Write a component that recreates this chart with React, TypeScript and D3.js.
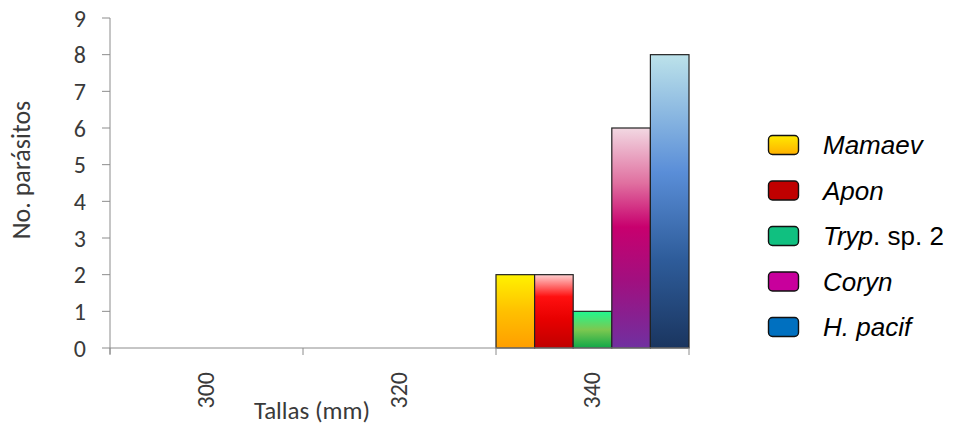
import React from "react";
import * as d3 from "d3";

const categories = ["300", "320", "340"];
const seriesNames = ["Mamaev", "Apon", "Tryp", "Coryn", "H. pacif"];
const mamaev = [0, 0, 2];
const apon = [0, 0, 2];
const tryp = [0, 0, 1];
const coryn = [0, 0, 6];
const hpacif = [0, 0, 8];
const yTicks = [0, 1, 2, 3, 4, 5, 6, 7, 8, 9];

const seriesValues = [mamaev, apon, tryp, coryn, hpacif];

const gradients = [
  [["0%", "#FFF200"], ["50%", "#FFC000"], ["100%", "#FF9E00"]],
  [["0%", "#FFD0D0"], ["30%", "#FF1010"], ["60%", "#E80000"], ["100%", "#C00000"]],
  [["0%", "#20F890"], ["50%", "#7CC850"], ["100%", "#10A848"]],
  [["0%", "#F2D8E2"], ["25%", "#E070A0"], ["45%", "#C8006E"], ["70%", "#A01080"], ["100%", "#7030A0"]],
  [["0%", "#BCE2EA"], ["40%", "#5A8ED8"], ["70%", "#2E5C9A"], ["100%", "#1A355F"]],
];
const legendFill = ["url(#lg0)", "#C00000", "#10C080", "#C8009C", "#0070C0"];

export default function App() {
  const W = 953, H = 425;
  const x0 = 110, x1 = 689;
  const yTop = 18, yBot = 348;
  const x = d3.scaleBand().domain(categories).range([x0, x1]).padding(0);
  const xs = d3.scaleBand().domain(seriesNames).range([0, x.bandwidth()]).padding(0);
  const y = d3.scaleLinear().domain([0, 9]).range([yBot, yTop]);
  const axisColor = "#8c8c8c";
  const tickFont = "Carlito, Calibri, Lato, 'Open Sans', sans-serif";
  const textColor = "#3a3a3a";
  const boundaries = [x0, ...categories.map((c) => (x(c) as number) + x.bandwidth())];

  return (
    <svg width={W} height={H} style={{ position: "absolute", left: 0, top: 0, background: "#fff" }}>
      <defs>
        {gradients.map((g, i) => (
          <linearGradient key={i} id={`g${i}`} x1="0" y1="0" x2="0" y2="1">
            {g.map(([o, c], j) => (
              <stop key={j} offset={o} stopColor={c} />
            ))}
          </linearGradient>
        ))}
        <linearGradient id="lg0" x1="0" y1="0" x2="0" y2="1">
          <stop offset="0%" stopColor="#FFEA00" />
          <stop offset="100%" stopColor="#FFB000" />
        </linearGradient>
      </defs>

      {/* bars */}
      {categories.map((c, ci) =>
        seriesNames.map((s, si) => {
          const v = seriesValues[si][ci];
          if (!v) return null;
          const bx = (x(c) as number) + (xs(s) as number);
          return (
            <rect
              key={`${c}-${s}`}
              x={bx}
              y={y(v)}
              width={xs.bandwidth()}
              height={yBot - y(v)}
              fill={`url(#g${si})`}
              stroke="#222"
              strokeWidth={1.2}
            />
          );
        })
      )}

      {/* y axis */}
      <line x1={x0} x2={x0} y1={yTop} y2={yBot + 6} stroke={axisColor} strokeWidth={1} />
      {yTicks.map((t) => (
        <g key={t}>
          <line x1={x0 - 8} x2={x0} y1={y(t)} y2={y(t)} stroke={axisColor} strokeWidth={1} />
          <text
            x={86}
            y={y(t)}
            dy="0.36em"
            textAnchor="end"
            fontFamily={tickFont}
            fontSize={24}
            fill={textColor}
          >
            {t}
          </text>
        </g>
      ))}

      {/* x axis */}
      <line x1={x0} x2={x1} y1={yBot} y2={yBot} stroke={axisColor} strokeWidth={1} />
      {boundaries.map((b, i) => (
        <line key={i} x1={b} x2={b} y1={yBot} y2={yBot + 7} stroke={axisColor} strokeWidth={1} />
      ))}
      {categories.map((c) => {
        const cx = (x(c) as number) + x.bandwidth() / 2;
        return (
          <text
            key={c}
            transform={`translate(${cx + 7.5},${372}) rotate(-90)`}
            textAnchor="end"
            fontFamily={tickFont}
            fontSize={24}
            fill={textColor}
          >
            {c}
          </text>
        );
      })}

      {/* axis titles */}
      <text x={312} y={419} textAnchor="middle" fontFamily={tickFont} fontSize={25} fill={textColor}>
        Tallas (mm)
      </text>
      <text
        transform={`translate(${30},${170}) rotate(-90)`}
        textAnchor="middle"
        fontFamily={tickFont}
        fontSize={26}
        fill={textColor}
      >
        No. parásitos
      </text>

      {/* legend */}
      {seriesNames.map((s, i) => {
        const cy = 145 + i * 45.5;
        return (
          <g key={s}>
            <rect
              x={768.5}
              y={cy - 9.5}
              width={30}
              height={19}
              rx={4}
              ry={4}
              fill={legendFill[i]}
              stroke="#111"
              strokeWidth={1.4}
            />
            <text
              x={823}
              y={cy}
              dy="0.36em"
              fontFamily="'Liberation Sans', Arial, sans-serif"
              fontSize={26}
              fill="#000"
            >
              {s === "Tryp" ? (
                <>
                  <tspan fontStyle="italic">Tryp</tspan>
                  <tspan>. sp. 2</tspan>
                </>
              ) : (
                <tspan fontStyle="italic">{s}</tspan>
              )}
            </text>
          </g>
        );
      })}
    </svg>
  );
}
